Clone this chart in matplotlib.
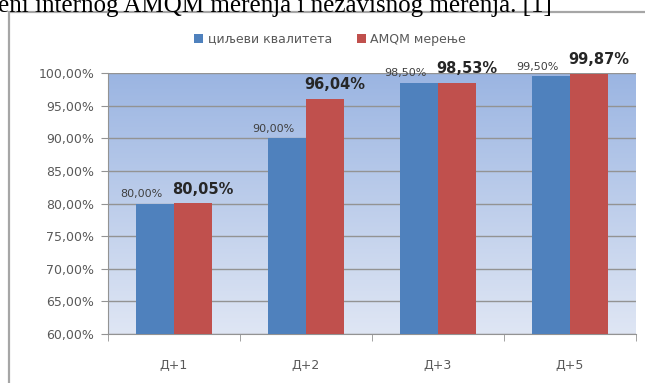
import numpy as np
import matplotlib.pyplot as plt
from matplotlib.colors import LinearSegmentedColormap
from matplotlib.patches import Rectangle

categories = ['Д+1', 'Д+2', 'Д+3', 'Д+5']
goals = [80.00, 90.00, 98.50, 99.50]
measured = [80.05, 96.04, 98.53, 99.87]
series_names = ['циљеви квалитета', 'AMQM мерење']
caption = 'eni internog AMQM merenja i nezavisnog merenja. [1]'

W, H = 645, 383
fig = plt.figure(figsize=(W / 100, H / 100), dpi=100)

# caption cut off at top of the page
fig.text(-2 / W, 1 - 12 / H, caption, family='Liberation Serif', fontsize=18,
         ha='left', va='baseline', color='black')

# chart frame (runs off the right/bottom of the picture)
fig.patches.append(Rectangle((9 / W, -0.1), 1.2, 1 - 12 / H + 0.1,
                             transform=fig.transFigure, fill=False,
                             edgecolor='#a6a6a6', lw=1.6))

ax = fig.add_axes([108 / W, 1 - 334 / H, (636 - 108) / W, (334 - 73) / H])

# gradient plot area
grad = np.linspace(0, 1, 256).reshape(-1, 1)
cmap = LinearSegmentedColormap.from_list('bg', ['#9bb5e2', '#dfe6f4'])
ax.imshow(grad, cmap=cmap, aspect='auto', extent=[-0.5, 3.5, 60, 100],
          zorder=0, origin='upper')

x = np.arange(len(categories))
bw = 0.29
blue, red = '#4f81bd', '#c0504d'
b1 = ax.bar(x - bw / 2, [g - 60 for g in goals], bw, bottom=60, color=blue,
            label=series_names[0], zorder=3)
b2 = ax.bar(x + bw / 2, [m - 60 for m in measured], bw, bottom=60, color=red,
            label=series_names[1], zorder=3)

fmt = lambda v: f'{v:.2f}%'.replace('.', ',')
for xi, g, m in zip(x, goals, measured):
    ax.annotate(fmt(g), (xi - bw / 2, g), xytext=(-10, 7), textcoords='offset points',
                ha='center', va='center', fontsize=8, color='#404040', zorder=5)
    ax.annotate(fmt(m), (xi + bw / 2, m), xytext=(7, 10), textcoords='offset points',
                ha='center', va='center', fontsize=10.5, fontweight='bold',
                color='#262626', zorder=5, annotation_clip=False)

ax.set_xlim(-0.5, 3.5)
ax.set_ylim(60, 100)
ax.set_yticks(np.arange(60, 101, 5))
ax.set_yticklabels([fmt(v) for v in np.arange(60, 101, 5)])
ax.yaxis.grid(True, color='#939393', lw=1, zorder=1)
ax.set_axisbelow(True)

ax.set_xticks(x)
ax.set_xticklabels(categories)
ax.set_xticks(np.arange(-0.5, 3.6, 1), minor=True)
ax.tick_params(axis='x', which='major', length=0, pad=18, labelsize=9, labelcolor='#595959')
ax.tick_params(axis='x', which='minor', length=5, color='#939393')
ax.tick_params(axis='y', length=5, color='#939393', labelsize=9, labelcolor='#595959', pad=5)

for s in ['top', 'right']:
    ax.spines[s].set_visible(False)
for s in ['left', 'bottom']:
    ax.spines[s].set_color('#939393')

fig.legend(handles=[b1, b2], loc='center', bbox_to_anchor=(330 / W, 1 - 39 / H),
           ncol=2, frameon=False, fontsize=9, handlelength=0.7, handleheight=0.7,
           handletextpad=0.4, columnspacing=2.0, labelcolor='#595959')

fig.savefig('out.png', dpi=100)
